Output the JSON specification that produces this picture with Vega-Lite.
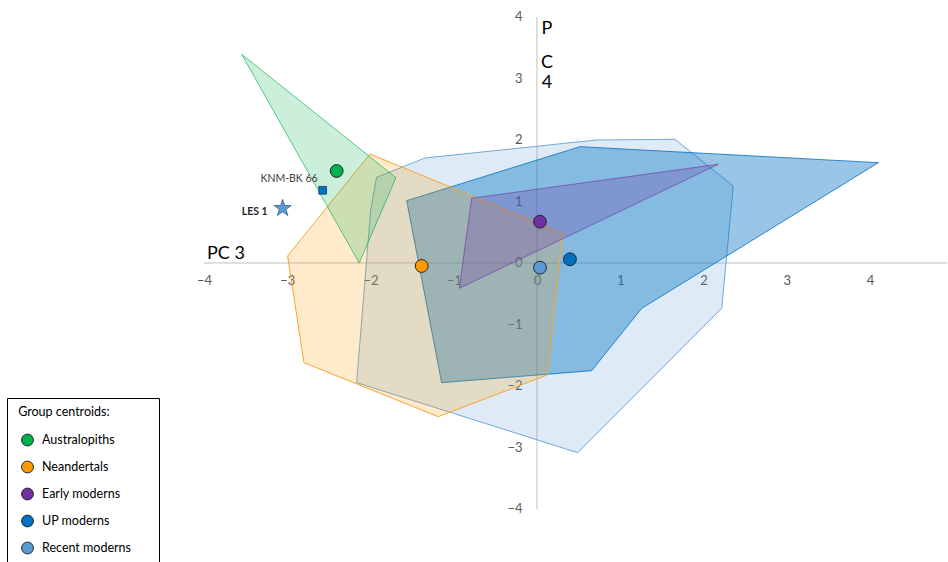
{
  "$schema": "https://vega.github.io/schema/vega-lite/v6.json",
  "width": 948,
  "height": 562,
  "autosize": {"type": "fit", "contains": "padding"},
  "padding": 0,
  "background": "white",
  "config": {"view": {"stroke": null}, "font": "Lato"},
  "datasets": {
    "poly": [
      {"g": "R", "i": 0, "x": -1.345, "y": 1.707},
      {"g": "R", "i": 1, "x": 0.717, "y": 2.0},
      {"g": "R", "i": 2, "x": 1.658, "y": 2.011},
      {"g": "R", "i": 3, "x": 2.358, "y": 1.252},
      {"g": "R", "i": 4, "x": 2.219, "y": -0.737},
      {"g": "R", "i": 5, "x": 0.489, "y": -3.085},
      {"g": "R", "i": 6, "x": -2.166, "y": -1.946},
      {"g": "R", "i": 7, "x": -1.998, "y": 0.862},
      {"g": "R", "i": 8, "x": -1.926, "y": 1.393},
      {"g": "R", "i": 9, "x": -1.345, "y": 1.707},
      {"g": "U", "i": 0, "x": -1.565, "y": 1.013},
      {"g": "U", "i": 1, "x": 0.517, "y": 1.891},
      {"g": "U", "i": 2, "x": 4.1, "y": 1.631},
      {"g": "U", "i": 3, "x": 1.258, "y": -0.737},
      {"g": "U", "i": 4, "x": 0.657, "y": -1.751},
      {"g": "U", "i": 5, "x": -1.145, "y": -1.946},
      {"g": "U", "i": 6, "x": -1.565, "y": 1.013},
      {"g": "N", "i": 0, "x": -2.006, "y": 1.772},
      {"g": "N", "i": 1, "x": 0.309, "y": 0.483},
      {"g": "N", "i": 2, "x": 0.124, "y": -1.821},
      {"g": "N", "i": 3, "x": -1.186, "y": -2.499},
      {"g": "N", "i": 4, "x": -2.799, "y": -1.621},
      {"g": "N", "i": 5, "x": -2.995, "y": 0.114},
      {"g": "N", "i": 6, "x": -2.006, "y": 1.772},
      {"g": "A", "i": 0, "x": -3.547, "y": 3.393},
      {"g": "A", "i": 1, "x": -1.694, "y": 1.387},
      {"g": "A", "i": 2, "x": -2.135, "y": 0.0},
      {"g": "A", "i": 3, "x": -3.547, "y": 3.393},
      {"g": "E", "i": 0, "x": -0.784, "y": 1.052},
      {"g": "E", "i": 1, "x": 2.178, "y": 1.605},
      {"g": "E", "i": 2, "x": -0.933, "y": -0.411},
      {"g": "E", "i": 3, "x": -0.784, "y": 1.052}
    ],
    "cent": [
      {"group": "Australopiths", "x": -2.406, "y": 1.496},
      {"group": "Neandertals", "x": -1.385, "y": -0.049},
      {"group": "Early moderns", "x": 0.036, "y": 0.672},
      {"group": "UP moderns", "x": 0.396, "y": 0.06},
      {"group": "Recent moderns", "x": 0.036, "y": -0.076}
    ],
    "spec": [
      {"name": "KNM-BK 66", "kind": "square", "x": -2.574, "y": 1.182},
      {"name": "LES 1", "kind": "star", "x": -3.055, "y": 0.889}
    ],
    "lines": [
      {"x": -4, "y": 0, "x2": 4.93, "y2": 0},
      {"x": 0, "y": -4, "x2": 0, "y2": 4}
    ],
    "ann": [
      {"t": "P", "x": 0.12, "y": 3.797},
      {"t": "C", "x": 0.12, "y": 3.253},
      {"t": "4", "x": 0.12, "y": 2.921}
    ],
    "ann3": [
      {"t": "PC 3", "x": -3.964, "y": 0.065}
    ]
  },
  "encoding": {
    "x": {
      "field": "x", "type": "quantitative",
      "scale": {"domain": [-6.45, 4.937], "nice": false, "zero": false},
      "axis": {"orient": "bottom", "offset": -299, "values": [-4, -3, -2, -1, 0, 1, 2, 3, 4], "domain": false, "ticks": false, "grid": false, "labelColor": "#595959", "labelFontSize": 13, "labelPadding": 11, "title": null, "labelFlush": false, "labelOverlap": false}
    },
    "y": {
      "field": "y", "type": "quantitative",
      "scale": {"domain": [-4.862, 4.276], "nice": false, "zero": false},
      "axis": {"orient": "left", "offset": -537, "values": [-4, -3, -2, -1, 0, 1, 2, 3, 4], "domain": false, "ticks": false, "grid": false, "labelColor": "#595959", "labelFontSize": 13, "labelPadding": 15, "title": null, "labelFlush": false, "labelOverlap": false}
    }
  },
  "layer": [
    {
      "data": {"name": "lines"},
      "mark": {"type": "rule", "color": "#bfbfbf", "strokeWidth": 1},
      "encoding": {"x2": {"field": "x2"}, "y2": {"field": "y2"}}
    },
    {
      "data": {"name": "poly"},
      "transform": [{"filter": "datum.g === 'R'"}],
      "mark": {"type": "line", "fill": "#5b9bd5", "fillOpacity": 0.2, "stroke": "#5b9bd5", "strokeOpacity": 0.85, "strokeWidth": 1},
      "encoding": {"order": {"field": "i", "type": "quantitative"}}
    },
    {
      "data": {"name": "poly"},
      "transform": [{"filter": "datum.g === 'U'"}],
      "mark": {"type": "line", "fill": "#0070c0", "fillOpacity": 0.4, "stroke": "#0070c0", "strokeOpacity": 0.8, "strokeWidth": 1},
      "encoding": {"order": {"field": "i", "type": "quantitative"}}
    },
    {
      "data": {"name": "poly"},
      "transform": [{"filter": "datum.g === 'N'"}],
      "mark": {"type": "line", "fill": "#ff9900", "fillOpacity": 0.2, "stroke": "#f7a533", "strokeWidth": 1},
      "encoding": {"order": {"field": "i", "type": "quantitative"}}
    },
    {
      "data": {"name": "poly"},
      "transform": [{"filter": "datum.g === 'A'"}],
      "mark": {"type": "line", "fill": "#00b050", "fillOpacity": 0.2, "stroke": "#00b050", "strokeOpacity": 0.65, "strokeWidth": 1},
      "encoding": {"order": {"field": "i", "type": "quantitative"}}
    },
    {
      "data": {"name": "poly"},
      "transform": [{"filter": "datum.g === 'E'"}],
      "mark": {"type": "line", "fill": "#7030a0", "fillOpacity": 0.25, "stroke": "#7030a0", "strokeOpacity": 0.6, "strokeWidth": 1},
      "encoding": {"order": {"field": "i", "type": "quantitative"}}
    },
    {
      "data": {"name": "cent"},
      "mark": {"type": "point", "shape": "circle", "filled": true, "size": 165, "stroke": "#262626", "strokeWidth": 1, "opacity": 1},
      "encoding": {
        "fill": {
          "field": "group", "type": "nominal",
          "scale": {"domain": ["Australopiths", "Neandertals", "Early moderns", "UP moderns", "Recent moderns"], "range": ["#00b050", "#ff9900", "#7030a0", "#0070c0", "#5b9bd5"]},
          "legend": {
            "orient": "none", "legendX": 7, "legendY": 398,
            "title": "\u200b\u00a0Group centroids:", "titleFontSize": 12.5, "titleFontWeight": "normal", "titleColor": "#000000", "titlePadding": 15,
            "labelFontSize": 12.5, "labelColor": "#000000", "labelOffset": 8,
            "labelExpr": "datum.label + '\u00a0\u00a0\u00a0\u00a0\u00a0\u00a0\u200b'",
            "symbolType": "circle", "symbolSize": 140, "symbolOffset": 6, "symbolStrokeColor": "#262626", "symbolStrokeWidth": 1, "symbolOpacity": 1,
            "rowPadding": 10, "padding": 8, "strokeColor": "#000000", "fillColor": "#ffffff"
          }
        }
      }
    },
    {
      "data": {"name": "spec"},
      "transform": [{"filter": "datum.kind === 'square'"}],
      "mark": {"type": "point", "shape": "square", "filled": true, "size": 60, "fill": "#0070c0", "stroke": "#1f3864", "strokeWidth": 0.8, "opacity": 1}
    },
    {
      "data": {"name": "spec"},
      "transform": [{"filter": "datum.kind === 'star'"}],
      "mark": {"type": "point", "shape": "M0,-1L0.2245,-0.309L0.951,-0.309L0.363,0.118L0.588,0.809L0,0.382L-0.588,0.809L-0.363,0.118L-0.951,-0.309L-0.2245,-0.309Z", "filled": true, "size": 320, "fill": "#5b9bd5", "stroke": "#2e5c8a", "strokeWidth": 0.8, "opacity": 1}
    },
    {
      "data": {"name": "spec"},
      "transform": [{"filter": "datum.kind === 'square'"}],
      "mark": {"type": "text", "align": "right", "baseline": "middle", "dx": -5, "dy": -11, "fontSize": 10.5, "color": "#404040"},
      "encoding": {"text": {"field": "name"}}
    },
    {
      "data": {"name": "spec"},
      "transform": [{"filter": "datum.kind === 'star'"}],
      "mark": {"type": "text", "align": "right", "baseline": "middle", "dx": -15, "dy": 4, "fontSize": 10.5, "fontWeight": "bold", "color": "#262626"},
      "encoding": {"text": {"field": "name"}}
    },
    {
      "data": {"name": "ann"},
      "mark": {"type": "text", "align": "center", "baseline": "middle", "fontSize": 18, "color": "#000000"},
      "encoding": {"text": {"field": "t"}}
    },
    {
      "data": {"name": "ann3"},
      "mark": {"type": "text", "align": "left", "baseline": "alphabetic", "fontSize": 18, "color": "#000000"},
      "encoding": {"text": {"field": "t"}}
    }
  ]
}
